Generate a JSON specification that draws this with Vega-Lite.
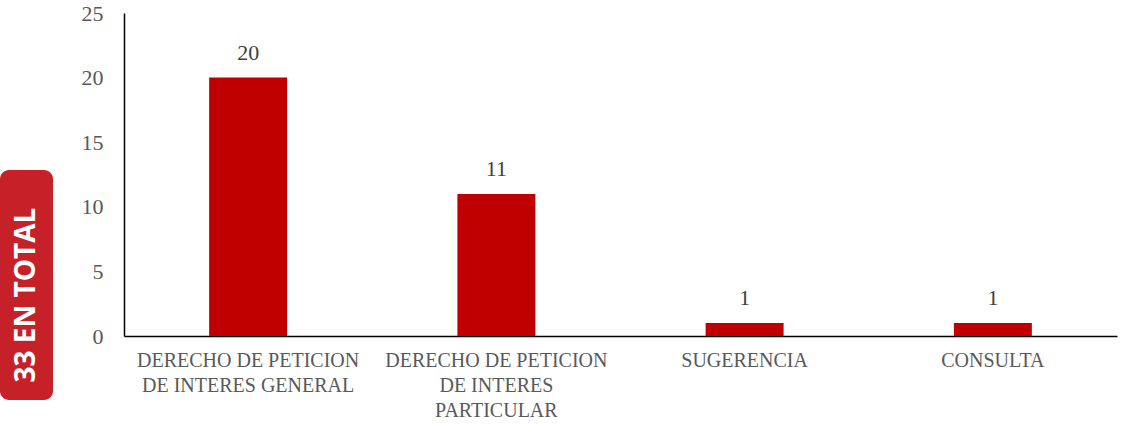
{
  "$schema": "https://vega.github.io/schema/vega-lite/v6.json",
  "padding": {"left": 0, "top": 2, "right": 5, "bottom": 0},
  "background": "white",
  "config": {"view": {"stroke": null}, "font": "Liberation Serif", "concat": {"spacing": 28}},
  "datasets": {
    "main": [
      {"tipo": "DERECHO DE PETICION DE INTERES GENERAL", "n": 20},
      {"tipo": "DERECHO DE PETICION DE INTERES PARTICULAR", "n": 11},
      {"tipo": "SUGERENCIA", "n": 1},
      {"tipo": "CONSULTA", "n": 1}
    ],
    "badge": [{"label": "33 EN TOTAL"}],
    "empty": []
  },
  "hconcat": [
    {
      "spacing": 10,
      "vconcat": [
        {
          "width": 53, "height": 147,
          "data": {"name": "empty"},
          "mark": "point"
        },
        {
          "width": 53,
          "height": 230,
          "view": {"fill": "#C62128", "cornerRadius": 9, "stroke": null},
          "data": {"name": "badge"},
          "mark": {"type": "text", "angle": 270, "color": "white", "font": "Open Sans", "fontWeight": "bold", "fontSize": 28, "align": "center", "baseline": "middle", "yOffset": 10},
          "encoding": {"text": {"field": "label"}}
        }
      ]
    },
    {
      "width": 993,
      "height": 323,
      "data": {"name": "main"},
      "encoding": {
        "x": {
          "field": "tipo", "type": "nominal", "sort": null,
          "scale": {"paddingInner": 0.686, "paddingOuter": 0.343},
          "axis": {
            "title": null, "labelAngle": 0, "ticks": false, "labelPadding": 14,
            "labelFont": "Liberation Serif", "labelFontSize": 20, "labelColor": "#595959",
            "labelLineHeight": 25, "labelBaseline": "top", "labelLimit": 300,
            "domainColor": "#000000", "domainWidth": 1.5,
            "labelExpr": "datum.label == 'DERECHO DE PETICION DE INTERES GENERAL' ? ['DERECHO DE PETICION', 'DE INTERES GENERAL'] : datum.label == 'DERECHO DE PETICION DE INTERES PARTICULAR' ? ['DERECHO DE PETICION', 'DE INTERES', 'PARTICULAR'] : datum.label"
          }
        },
        "y": {
          "field": "n", "type": "quantitative",
          "scale": {"domain": [0, 25], "nice": false},
          "axis": {
            "title": null, "values": [0, 5, 10, 15, 20, 25], "grid": false, "ticks": false,
            "labelPadding": 21, "labelFont": "Liberation Serif", "labelFontSize": 22, "labelColor": "#595959",
            "domainColor": "#000000", "domainWidth": 1.5
          }
        }
      },
      "layer": [
        {"mark": {"type": "bar", "color": "#C00000"}},
        {
          "mark": {"type": "text", "dy": -25, "font": "Liberation Serif", "fontSize": 22, "color": "#404040"},
          "encoding": {"text": {"field": "n", "type": "quantitative"}}
        }
      ]
    }
  ]
}
